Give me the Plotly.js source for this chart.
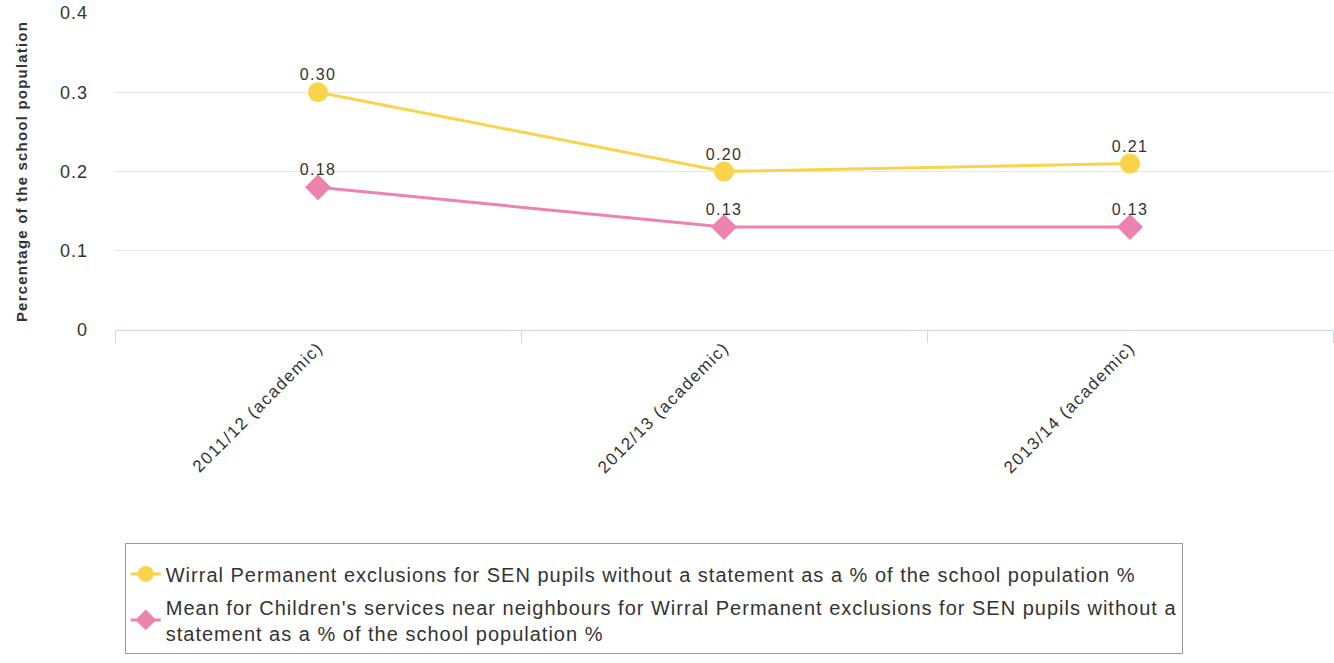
<!DOCTYPE html>
<html>
<head>
<meta charset="utf-8">
<script src="https://cdn.plot.ly/plotly-3.0.1.min.js"></script>
<style>
html,body{margin:0;padding:0;background:#fff;}
#chart{width:1334px;height:663px;}
text.legendtext{letter-spacing:1px;}
.xtick text{letter-spacing:1.5px;}
.ytick text{letter-spacing:1px;}
.textpoint text{letter-spacing:1.3px;}
text.ytitle{letter-spacing:1.2px;}
</style>
</head>
<body>
<div id="chart"></div>
<script>
const categories = ["2011/12 (academic)", "2012/13 (academic)", "2013/14 (academic)"];
const wirralValues = [0.30, 0.20, 0.21];
const neighbourValues = [0.18, 0.13, 0.13];
const wirralName = "Wirral Permanent exclusions for SEN pupils without a statement as a % of the school population %";
const neighbourName = "Mean for Children's services near neighbours for Wirral Permanent exclusions for SEN pupils without a<br>statement as a % of the school population %";
const yTicks = [0, 0.1, 0.2, 0.3, 0.4];
const yTickLabels = ["0", "0.1", "0.2", "0.3", "0.4"];

const font = "Arial, 'Liberation Sans', sans-serif";
function series(values, name, group, color, symbol) {
  return {
    x: categories, y: values, name: name, legendgroup: group, type: "scatter", mode: "lines+markers",
    line: {color: color, width: 3},
    marker: {symbol: symbol, size: 20, color: color},
    cliponaxis: false
  };
}
function labels(values) {
  return {
    x: categories, y: values, type: "scatter", mode: "markers+text", showlegend: false,
    marker: {size: 11, color: "rgba(0,0,0,0)"},
    text: values.map(v => v.toFixed(2)), textposition: "top center",
    textfont: {family: font, size: 16, color: "#333333"}, cliponaxis: false, hoverinfo: "skip"
  };
}
const traces = [
  series(wirralValues, wirralName, "a", "#f9d44b", "circle"),
  series(neighbourValues, neighbourName, "b", "#ee82ae", "diamond"),
  labels(wirralValues),
  labels(neighbourValues)
];
const layout = {
  width: 1334, height: 663,
  margin: {l: 115, r: 1, t: 13, b: 333},
  paper_bgcolor: "#ffffff", plot_bgcolor: "#ffffff",
  font: {family: font, color: "#333333"},
  showlegend: true,
  legend: {
    x: 0.008, xanchor: "left", y: -0.672, yanchor: "top",
    bordercolor: "#999999", borderwidth: 1,
    font: {family: font, size: 20, color: "#333333"},
    title: {text: "&nbsp;", font: {size: 8}},
    itemwidth: 30, tracegroupgap: 4
  },
  xaxis: {
    type: "category", range: [-0.5, 2.5], tickson: "boundaries",
    showgrid: false, showline: true, linecolor: "#ccd6eb", linewidth: 1,
    ticks: "outside", ticklen: 12, tickcolor: "#ccd6eb",
    tickangle: -45, tickfont: {family: font, size: 17, color: "#333333"},
    zeroline: false, fixedrange: true
  },
  yaxis: {
    range: [0, 0.4], tickvals: yTicks, ticktext: yTickLabels,
    showgrid: true, gridcolor: "#e6e6e6", zeroline: false,
    tickfont: {family: font, size: 18, color: "#333333"},
    ticklabelstandoff: 26,
    title: {text: "<b>Percentage of the school population</b>", font: {family: font, size: 15, color: "#333333"}, standoff: 28},
    automargin: false, fixedrange: true
  }
};
Plotly.newPlot("chart", traces, layout, {displayModeBar: false, staticPlot: true});
</script>
</body>
</html>
